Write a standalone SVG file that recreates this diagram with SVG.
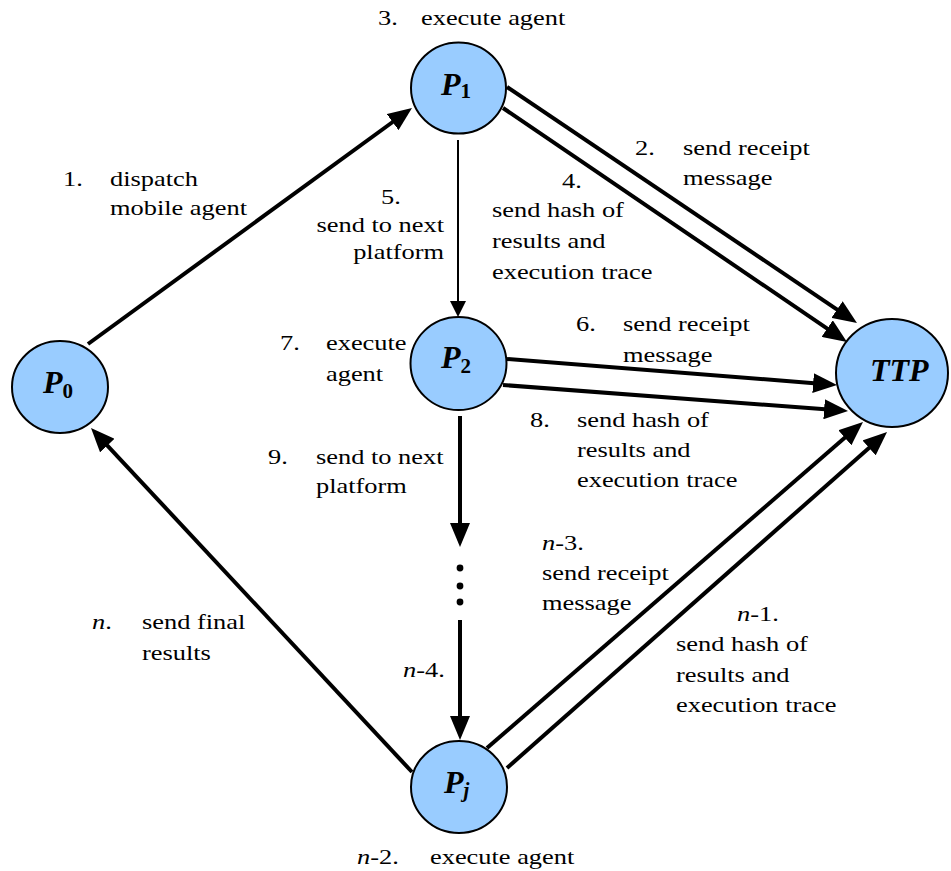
<svg xmlns="http://www.w3.org/2000/svg" width="951" height="871" viewBox="0 0 951 871">
<style>
.node{fill:#99ccff;stroke:#000;stroke-width:2}
.nl{font-family:"Liberation Serif","Times New Roman",serif;font-size:32px;font-weight:bold;font-style:italic;fill:#000}
.sub{font-size:21px;font-style:normal}
.subi{font-size:21px;font-style:italic}
.t{font-family:"Liberation Serif","Times New Roman",serif;font-size:22px;fill:#000}
.it{font-style:italic}
.e{text-anchor:end}
.thick{stroke:#000;stroke-width:4;fill:none;marker-end:url(#ah)}
.thin{stroke:#000;stroke-width:2;fill:none;marker-end:url(#ahs)}
.dot{fill:#000}
</style>
<defs>
<marker id="ah" viewBox="0 0 24 20" refX="1" refY="10" markerWidth="24" markerHeight="20" markerUnits="userSpaceOnUse" orient="auto">
<path d="M0,0 L24,10 L0,20 z" fill="#000"/>
</marker>
<marker id="ahs" viewBox="0 0 16 16" refX="1" refY="8" markerWidth="16" markerHeight="16" markerUnits="userSpaceOnUse" orient="auto">
<path d="M0,0 L16,8 L0,16 z" fill="#000"/>
</marker>
</defs>
<rect width="951" height="871" fill="#fff"/>
<g id="connectors">
<line class="thick" x1="88" y1="344" x2="393.4" y2="121.5"/>
<line class="thick" x1="507" y1="87" x2="837.9" y2="310.1"/>
<line class="thick" x1="503" y1="108" x2="828" y2="329.1"/>
<line class="thin" x1="458" y1="140" x2="458" y2="302"/>
<line class="thick" x1="507" y1="359" x2="814.1" y2="383.2"/>
<line class="thick" x1="503" y1="385" x2="825.1" y2="409.3"/>
<line class="thick" x1="460" y1="416" x2="460" y2="524"/>
<circle class="dot" cx="460" cy="568" r="3.4"/>
<circle class="dot" cx="460" cy="586" r="3.4"/>
<circle class="dot" cx="460" cy="602" r="3.4"/>
<line class="thick" x1="460" y1="620" x2="460" y2="717"/>
<line class="thick" x1="487" y1="748" x2="845.6" y2="437.1"/>
<line class="thick" x1="507" y1="768" x2="869.8" y2="447.2"/>
<line class="thick" x1="412" y1="772" x2="106.7" y2="444.8"/>
</g>
<g id="node-P0">
<ellipse class="node" cx="60" cy="387" rx="48" ry="46"/>
<text class="nl" x="43" y="393">P<tspan class="sub" dy="5">0</tspan></text>
</g>
<g id="node-P1">
<ellipse class="node" cx="458.5" cy="88" rx="47.5" ry="45.5"/>
<text class="nl" x="441" y="95">P<tspan class="sub" dy="3">1</tspan></text>
</g>
<g id="node-P2">
<ellipse class="node" cx="458.5" cy="363.5" rx="48" ry="46.5"/>
<text class="nl" x="441" y="368">P<tspan class="sub" dy="5">2</tspan></text>
</g>
<g id="node-Pj">
<ellipse class="node" cx="459" cy="787" rx="48" ry="46"/>
<text class="nl" x="444" y="793">P<tspan class="subi" dy="4">j</tspan></text>
</g>
<g id="node-TTP">
<ellipse class="node" cx="892" cy="373" rx="56" ry="54"/>
<text class="nl" x="870" y="381">TTP</text>
</g>
<g id="labels">
<text class="t" transform="translate(378,25) scale(1.2,1)">3.</text>
<text class="t" transform="translate(421,25) scale(1.2,1)">execute agent</text>
<text class="t" transform="translate(63,186) scale(1.2,1)">1.</text>
<text class="t" transform="translate(110,186) scale(1.2,1)">dispatch</text>
<text class="t" transform="translate(110,215) scale(1.2,1)">mobile agent</text>
<text class="t" transform="translate(635,155) scale(1.2,1)">2.</text>
<text class="t" transform="translate(683,155) scale(1.2,1)">send receipt</text>
<text class="t" transform="translate(683,185) scale(1.2,1)">message</text>
<text class="t" transform="translate(381,204) scale(1.2,1)">5.</text>
<text class="t e" transform="translate(444,232) scale(1.2,1)">send to next</text>
<text class="t e" transform="translate(444,259) scale(1.2,1)">platform</text>
<text class="t" transform="translate(562,188) scale(1.2,1)">4.</text>
<text class="t" transform="translate(492,217) scale(1.2,1)">send hash of</text>
<text class="t" transform="translate(492,248) scale(1.2,1)">results and</text>
<text class="t" transform="translate(492,279) scale(1.2,1)">execution trace</text>
<text class="t" transform="translate(280,350) scale(1.2,1)">7.</text>
<text class="t" transform="translate(326,350) scale(1.2,1)">execute</text>
<text class="t" transform="translate(326,381) scale(1.2,1)">agent</text>
<text class="t" transform="translate(576,331) scale(1.2,1)">6.</text>
<text class="t" transform="translate(623,331) scale(1.2,1)">send receipt</text>
<text class="t" transform="translate(623,362) scale(1.2,1)">message</text>
<text class="t" transform="translate(530,427) scale(1.2,1)">8.</text>
<text class="t" transform="translate(577,427) scale(1.2,1)">send hash of</text>
<text class="t" transform="translate(577,457) scale(1.2,1)">results and</text>
<text class="t" transform="translate(577,487) scale(1.2,1)">execution trace</text>
<text class="t" transform="translate(268,464) scale(1.2,1)">9.</text>
<text class="t" transform="translate(316,464) scale(1.2,1)">send to next</text>
<text class="t" transform="translate(316,493) scale(1.2,1)">platform</text>
<text class="t" transform="translate(92,629) scale(1.2,1)"><tspan class="it">n</tspan>.</text>
<text class="t" transform="translate(142,629) scale(1.2,1)">send final</text>
<text class="t" transform="translate(142,660) scale(1.2,1)">results</text>
<text class="t" transform="translate(403,677) scale(1.2,1)"><tspan class="it">n</tspan>-4.</text>
<text class="t" transform="translate(542,550) scale(1.2,1)"><tspan class="it">n</tspan>-3.</text>
<text class="t" transform="translate(542,580) scale(1.2,1)">send receipt</text>
<text class="t" transform="translate(542,610) scale(1.2,1)">message</text>
<text class="t" transform="translate(737,621) scale(1.2,1)"><tspan class="it">n</tspan>-1.</text>
<text class="t" transform="translate(676,651) scale(1.2,1)">send hash of</text>
<text class="t" transform="translate(676,682) scale(1.2,1)">results and</text>
<text class="t" transform="translate(676,712) scale(1.2,1)">execution trace</text>
<text class="t" transform="translate(357,864) scale(1.2,1)"><tspan class="it">n</tspan>-2.</text>
<text class="t" transform="translate(430,864) scale(1.2,1)">execute agent</text>
</g>
</svg>
